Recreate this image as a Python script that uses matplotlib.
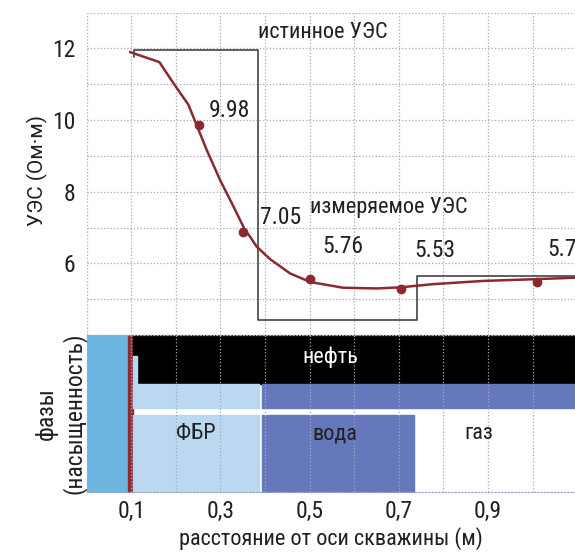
import matplotlib
matplotlib.use("Agg")
import matplotlib.pyplot as plt
from matplotlib import font_manager
import numpy as np

# condensed face if we have one
names = set(f.name for f in font_manager.fontManager.ttflist)
for fam in ["Roboto Condensed", "Liberation Sans Narrow", "DejaVu Sans"]:
    if fam in names:
        plt.rcParams["font.family"] = [fam, "DejaVu Sans"]
        break

# measured resistivity along the radius
meas_x = [0.097, 0.163, 0.194, 0.228, 0.243, 0.269, 0.299, 0.329, 0.355, 0.366,
          0.381, 0.411, 0.456, 0.501, 0.575, 0.650, 0.702, 0.777, 0.889, 1.009, 1.095]
meas_y = [11.90, 11.62, 11.04, 10.43, 9.97, 9.17, 8.33, 7.59, 6.93, 6.75,
          6.47, 6.12, 5.72, 5.48, 5.32, 5.30, 5.33, 5.42, 5.51, 5.56, 5.60]

# sampled points with their labels
pts_x = [0.252, 0.350, 0.501, 0.705, 1.010]
pts_y = [9.85, 6.87, 5.55, 5.28, 5.48]
pts_lab = ["9.98", "7.05", "5.76", "5.53", "5.7"]

# true resistivity (step profile)
true_x = [0.106, 0.106, 0.383, 0.383, 0.740, 0.740, 1.10]
true_y = [11.75, 11.95, 11.95, 4.43, 4.43, 5.65, 5.65]

# phase bands: (start, end) along x
well_band = (0.0, 0.092)
cake_band = (0.092, 0.104)
oil_upper = (0.104, 1.10)
oil_lower = (0.112, 1.10)
mid_fbr = (0.104, 0.387)
mid_water = (0.393, 1.10)
low_fbr = (0.104, 0.387)
low_water = (0.393, 0.734)

xticks = [0.1, 0.3, 0.5, 0.7, 0.9]
xtick_labels = ["0,1", "0,3", "0,5", "0,7", "0,9"]
yticks = [6, 8, 10, 12]

grid_c = "#a3a6c4"
red = "#8b2a2e"
txt = "#231f20"

fig = plt.figure(figsize=(5.75, 5.54), dpi=100)
ax = fig.add_axes([0.1508, 0.3953, 0.8492, 0.5818])
ax2 = fig.add_axes([0.1508, 0.1119, 0.8492, 0.2834], sharex=ax)

ax.set_xlim(0, 1.095)
ax.set_ylim(4, 13)
ax.set_xticks(np.arange(0, 1.05, 0.1), minor=True)
ax.set_yticks(np.arange(4, 13.5, 1), minor=True)
ax.set_yticks(yticks)
ax.set_yticklabels([str(v) for v in yticks])
ax.grid(which="both", color=grid_c, linestyle=":", linewidth=0.9)
ax.tick_params(which="both", length=0, labelsize=17, colors=txt, pad=8)
ax.tick_params(axis="x", labelbottom=False)
for s in ax.spines.values():
    s.set_visible(False)

ax.plot(true_x, true_y, color="#333333", lw=1.1, clip_on=False)
ax.plot(meas_x, meas_y, color=red, lw=1.8, solid_capstyle="round")
ax.plot(pts_x, pts_y, "o", color=red, ms=6)

lab_off = [(0.022, 0.42), (0.039, 0.40), (0.027, 0.91), (0.029, 1.09), (0.024, 0.92)]
for x, y, s, (dx, dy) in zip(pts_x, pts_y, pts_lab, lab_off):
    ax.text(x + dx, y + dy, s, fontsize=17, color=txt, ha="left", va="center")

ax.text(0.384, 12.44, "истинное УЭС", fontsize=16, color=txt, ha="left", va="center")
ax.text(0.50, 7.57, "измеряемое УЭС", fontsize=16, color=txt, ha="left", va="center")
ax.set_ylabel("УЭС (Ом·м)", fontsize=15, color=txt, family=["Roboto", "DejaVu Sans"])
ax.yaxis.set_label_coords(-0.08, 0.51)

# phases panel
ax2.set_ylim(0, 1)
ax2.broken_barh([(well_band[0], well_band[1] - well_band[0])], (0, 1), color="#6db6e2")
ax2.broken_barh([(cake_band[0], cake_band[1] - cake_band[0])], (0, 1), color="#8b2d2f")
ax2.broken_barh([(oil_upper[0], oil_upper[1] - oil_upper[0])], (0.866, 0.134), color="black")
ax2.broken_barh([(oil_lower[0], oil_lower[1] - oil_lower[0])], (0.688, 0.18), color="black")
ax2.broken_barh([(mid_fbr[0], 0.008)], (0.537, 0.33), color="#bbd8f0")
ax2.broken_barh([(mid_fbr[0], mid_fbr[1] - mid_fbr[0])], (0.537, 0.151), color="#bbd8f0")
ax2.broken_barh([(mid_water[0], mid_water[1] - mid_water[0])], (0.537, 0.151), color="#6678bc")
ax2.broken_barh([(low_fbr[0], low_fbr[1] - low_fbr[0])], (0, 0.49), color="#bbd8f0")
ax2.broken_barh([(low_water[0], low_water[1] - low_water[0])], (0, 0.49), color="#6678bc")

ax2.text(0.546, 0.86, "нефть", fontsize=16, color="white", ha="center", va="center")
ax2.text(0.245, 0.37, "ФБР", fontsize=16, color=txt, ha="center", va="center")
ax2.text(0.556, 0.37, "вода", fontsize=16, color=txt, ha="center", va="center")
ax2.text(0.880, 0.37, "газ", fontsize=16, color=txt, ha="center", va="center")

ax2.set_axisbelow(False)
ax2.set_xticks(xticks)
ax2.set_xticklabels(xtick_labels)
ax2.set_xticks(np.arange(0, 1.05, 0.1), minor=True)
ax2.set_yticks([])
ax2.grid(which="both", axis="x", color=grid_c, linestyle=":", linewidth=0.9)
ax2.tick_params(which="both", length=0, labelsize=17, colors=txt, pad=6)
for k in ["top", "bottom", "left"]:
    ax2.spines[k].set_linestyle(":")
    ax2.spines[k].set_color(grid_c)
    ax2.spines[k].set_linewidth(0.9)
ax2.spines["right"].set_visible(False)
ax2.set_ylabel("фазы\n(насыщенность)", fontsize=17, color=txt, linespacing=1.2)
ax2.yaxis.set_label_coords(0.0, 0.5)
ax2.set_xlabel("расстояние от оси скважины (м)", fontsize=16, color=txt, labelpad=3)

fig.savefig("out.png", dpi=100)
